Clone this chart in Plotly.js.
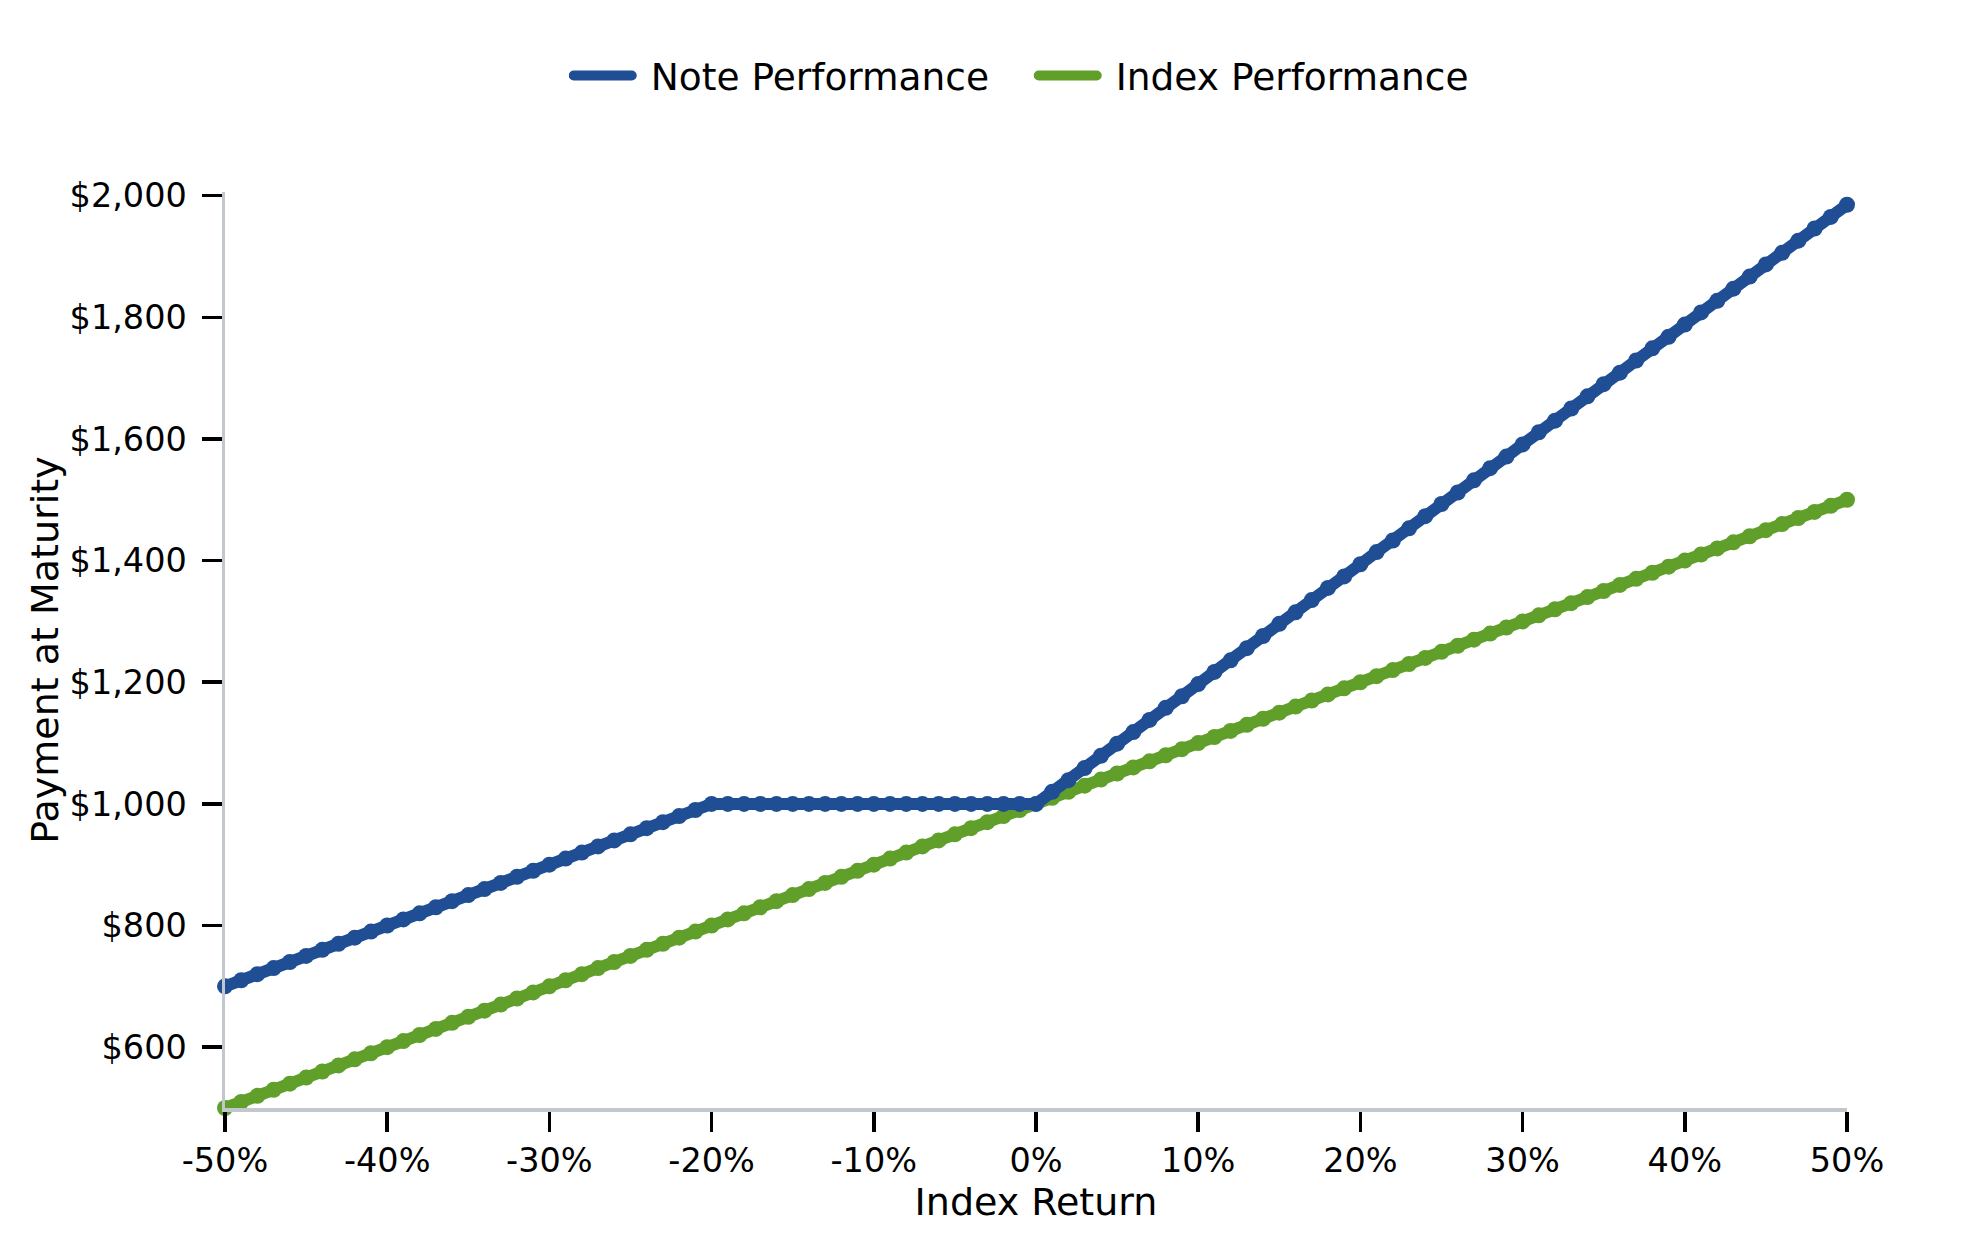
<!DOCTYPE html>
<html>
<head>
<meta charset="utf-8">
<script src="https://cdn.plot.ly/plotly-3.0.1.min.js"></script>
<style>
  body { margin: 0; background: #fff; }
  #chart { width: 1979px; height: 1250px; }
  .legendlines path { stroke-linecap: round; stroke-dasharray: 58 300; }
</style>
</head>
<body>
<div id="chart"></div>
<script>
// index return in %, one point per 1%
const indexReturn = [
  -50,-49,-48,-47,-46,-45,-44,-43,-42,-41,-40,-39,-38,-37,-36,-35,-34,-33,-32,-31,
  -30,-29,-28,-27,-26,-25,-24,-23,-22,-21,-20,-19,-18,-17,-16,-15,-14,-13,-12,-11,
  -10,-9,-8,-7,-6,-5,-4,-3,-2,-1,0,1,2,3,4,5,6,7,8,9,
  10,11,12,13,14,15,16,17,18,19,20,21,22,23,24,25,26,27,28,29,
  30,31,32,33,34,35,36,37,38,39,40,41,42,43,44,45,46,47,48,49,50
]

const notePerf = [
  700,710,720,730,740,750,760,770,780,790,800,810,820,830,840,850,860,870,880,890,
  900,910,920,930,940,950,960,970,980,990,1000,1000,1000,1000,1000,1000,1000,1000,1000,1000,
  1000,1000,1000,1000,1000,1000,1000,1000,1000,1000,1000,1020,1039,1059,1079,1099,1118,1138,1158,1177,
  1197,1217,1236,1256,1276,1296,1315,1335,1355,1374,1394,1414,1433,1453,1473,1493,1512,1532,1552,1571,
  1591,1611,1630,1650,1670,1690,1709,1729,1749,1768,1788,1808,1827,1847,1867,1887,1906,1926,1946,1965,1985
]

const indexPerf = [
  500,510,520,530,540,550,560,570,580,590,600,610,620,630,640,650,660,670,680,690,
  700,710,720,730,740,750,760,770,780,790,800,810,820,830,840,850,860,870,880,890,
  900,910,920,930,940,950,960,970,980,990,1000,1010,1020,1030,1040,1050,1060,1070,1080,1090,
  1100,1110,1120,1130,1140,1150,1160,1170,1180,1190,1200,1210,1220,1230,1240,1250,1260,1270,1280,1290,
  1300,1310,1320,1330,1340,1350,1360,1370,1380,1390,1400,1410,1420,1430,1440,1450,1460,1470,1480,1490,1500
]

const xTickVals = [-50,-40,-30,-20,-10,0,10,20,30,40,50]
const xTickText = ['-50%','-40%','-30%','-20%','-10%','0%','10%','20%','30%','40%','50%']
const yTickVals = [600,800,1000,1200,1400,1600,1800,2000]
const yTickText = ['$600','$800','$1,000','$1,200','$1,400','$1,600','$1,800','$2,000']

const blue = '#1f4e94'
const green = '#5f9f2a'

function makeTrace(y, color){
  return {
    x: indexReturn, y: y, type: 'scatter', mode: 'lines+markers',
    line: {color: color, width: 12},
    marker: {color: color, size: 16},
    cliponaxis: false, showlegend: false, hoverinfo: 'skip'
  }
}

// legend-only entries (plain thick line, no marker)
function legendTrace(name, color){
  return {
    x: [null], y: [null], type: 'scatter', mode: 'lines', name: name,
    line: {color: color, width: 10}
  }
}

let data = [
  makeTrace(indexPerf, green),
  makeTrace(notePerf, blue),
  legendTrace('Note Performance', blue),
  legendTrace('Index Performance', green)
]

let axisCommon = {
  showgrid: false, zeroline: false,
  showline: true, linecolor: '#c2c7cd', linewidth: 3.5,
  ticks: 'outside', ticklen: 20, tickwidth: 3.5, tickcolor: '#000',
  tickfont: {size: 33.5, color: '#000'}
}

let layout = {
  width: 1979, height: 1250,
  paper_bgcolor: '#fff', plot_bgcolor: '#fff',
  font: {family: 'DejaVu Sans', color: '#000'},
  margin: {l: 225, r: 132, t: 192, b: 142},
  showlegend: true,
  legend: {
    orientation: 'h', x: 0.4986, xanchor: 'center', y: 1.127, yanchor: 'middle',
    font: {size: 37.5, color: '#000'}, itemwidth: 72, traceorder: 'normal',
    entrywidth: 378, entrywidthmode: 'pixels'
  },
  xaxis: Object.assign({}, axisCommon, {
    range: [-50, 50], tickvals: xTickVals, ticktext: xTickText,
    title: {text: 'Index Return', font: {size: 38}, standoff: 8}
  }),
  yaxis: Object.assign({}, axisCommon, {
    range: [500, 2006], tickvals: yTickVals, ticktext: yTickText,
    ticklabelstandoff: 8,
    title: {text: 'Payment at Maturity', font: {size: 38}, standoff: 0}
  })
}

Plotly.newPlot('chart', data, layout, {staticPlot: true})
</script>
</body>
</html>
